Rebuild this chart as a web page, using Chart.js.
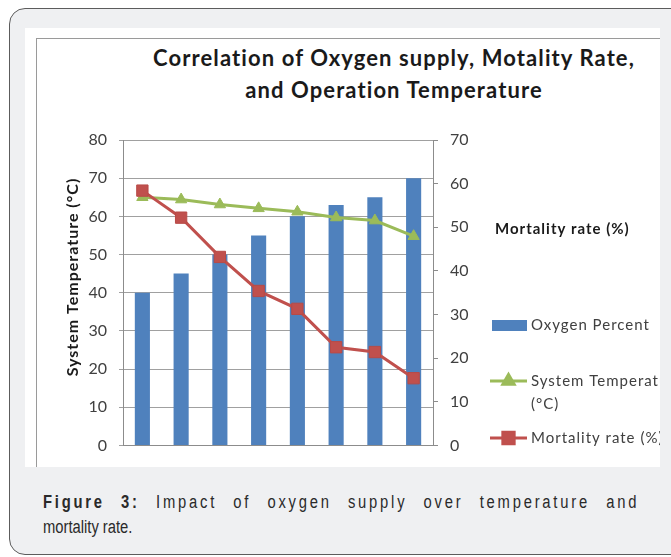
<!DOCTYPE html>
<html>
<head>
<meta charset="utf-8">
<script src="https://cdn.jsdelivr.net/npm/chart.js@4.4.1/dist/chart.umd.min.js"></script>
<style>
  body { margin: 0; width: 671px; height: 557px; overflow: hidden; position: relative; background: #fff; }
  .box { position: absolute; left: 9px; top: 8px; width: 700px; height: 545px; background: #eff0f2;
         border: 1.5px solid #5c5c5c; border-radius: 16px; }
  .plate { position: absolute; left: 25px; top: 28px; width: 635px; height: 439px; background: #fff; overflow: hidden; }
  .frame { position: absolute; left: 11px; top: 10px; width: 700px; height: 500px;
           border-left: 1px solid #9a9a9a; border-top: 1px solid #9a9a9a; }
  .title { position: absolute; left: 44px; top: 14px; width: 650px; text-align: center;
           font: bold 22px/32px Lato, sans-serif; letter-spacing: 1.1px; color: #1a1a1a; }
  canvas { position: absolute; left: 0; top: 0; }
  /* the caption font is a condensed Arial: squeeze Liberation Sans */
  .caption { position: absolute; left: 43px; top: 490px; width: 727px; color: #2a2a2a;
             transform: scaleX(0.82); transform-origin: 0 0;
             font: 18px/25px "Liberation Sans", Arial, sans-serif; }
  .caption .l1 { text-align: justify; text-align-last: justify; letter-spacing: 3.4px; white-space: nowrap; }
</style>
</head>
<body>
<div class="box"></div>
<div class="plate">
  <div class="frame"></div>
  <div class="title">Correlation of Oxygen supply, Motality Rate,<br>and Operation Temperature</div>
  <canvas id="chart" width="635" height="439"></canvas>
</div>
<div class="caption">
  <div class="l1"><b>Figure 3:</b> Impact of oxygen supply over temperature and</div>
  <div>mortality rate.</div>
</div>
<script>
// data
const categories = ['1', '2', '3', '4', '5', '6', '7', '8'];
const oxygenPercent = [40, 45, 50, 55, 60, 63, 65, 70];
const systemTemperature = [65, 64.4, 63.1, 62.1, 61.2, 59.7, 58.9, 54.8];
const mortalityRate = [58.4, 52.2, 43.2, 35.4, 31.3, 22.5, 21.4, 15.4];
const leftTicks = [0, 10, 20, 30, 40, 50, 60, 70, 80];
const rightTicks = [0, 10, 20, 30, 40, 50, 60, 70];
const legendLines = [['Oxygen Percent'], ['System Temperature', '(°C)'], ['Mortality rate (%)']];

const blue = '#4f81bd', green = '#9bbb59', red = '#c0504d';
const tickFont = { family: 'Lato', size: 16 };

const extras = {
    id: 'extras',
    afterDraw(chart) {
        const ctx = chart.ctx;
        ctx.save();
        ctx.letterSpacing = '1px';
        // left axis title
        ctx.fillStyle = '#1a1a1a';
        ctx.font = 'bold 16px Lato';
        ctx.textAlign = 'center';
        ctx.textBaseline = 'middle';
        ctx.save();
        ctx.translate(48, 249);
        ctx.rotate(-Math.PI / 2);
        ctx.fillText('System Temperature (°C)', 0, 0);
        ctx.restore();

        // secondary axis title, horizontal like the original
        ctx.font = 'bold 15px Lato';
        ctx.textAlign = 'left';
        ctx.fillText('Mortality rate (%)', 470, 201);

        // legend
        const rows = [297, 353, 410];
        ctx.font = '15px Lato';
        chart.data.datasets.forEach((ds, i) => {
            const y = rows[i];
            if (ds.type === 'bar') {
                ctx.fillStyle = ds.backgroundColor;
                ctx.fillRect(467, y - 5, 35, 11);
            } else {
                ctx.strokeStyle = ds.borderColor;
                ctx.lineWidth = 3;
                ctx.beginPath();
                ctx.moveTo(465, y);
                ctx.lineTo(502, y);
                ctx.stroke();
                Chart.helpers.drawPoint(ctx, {
                    pointStyle: ds.pointStyle,
                    radius: ds.pointRadius,
                    borderWidth: 1
                }, 483.5, y);
                ctx.fillStyle = ds.borderColor;
                ctx.fill();
            }
            ctx.fillStyle = '#404040';
            legendLines[i].forEach((t, k) => ctx.fillText(t, 506, y + k * 23));
        });
        ctx.restore();
    }
};

new Chart(document.getElementById('chart'), {
    data: {
        labels: categories,
        datasets: [
            {
                type: 'bar',
                label: 'Oxygen Percent',
                data: oxygenPercent,
                backgroundColor: blue,
                yAxisID: 'y',
                barPercentage: 0.39,
                categoryPercentage: 1,
                order: 3
            },
            {
                type: 'line',
                label: 'System Temperature (°C)',
                data: systemTemperature,
                borderColor: green,
                backgroundColor: green,
                borderWidth: 3,
                pointStyle: 'triangle',
                pointRadius: 6.5,
                pointBackgroundColor: green,
                pointBorderColor: green,
                pointBorderWidth: 1,
                yAxisID: 'y',
                order: 2
            },
            {
                type: 'line',
                label: 'Mortality rate (%)',
                data: mortalityRate,
                borderColor: red,
                backgroundColor: red,
                borderWidth: 3,
                pointStyle: 'rect',
                pointRadius: 8,
                pointBackgroundColor: red,
                pointBorderColor: '#b84a47',
                pointBorderWidth: 1,
                yAxisID: 'y1',
                order: 1
            }
        ]
    },
    options: {
        responsive: false,
        animation: false,
        layout: { padding: { top: 112, bottom: 15, left: 0, right: 0 } },
        plugins: {
            legend: { display: false },
            title: { display: false },
            tooltip: { enabled: false }
        },
        scales: {
            x: {
                grid: { display: false },
                border: { display: true, color: '#8c8c8c' },
                ticks: { display: false },
                afterFit: s => { s.height = 0; }
            },
            y: {
                position: 'left',
                min: 0,
                max: 80,
                afterBuildTicks: s => { s.ticks = leftTicks.map(v => ({ value: v })); },
                grid: { color: '#a0a0a0', tickLength: 4 },
                border: { color: '#8c8c8c' },
                ticks: { padding: 12, color: '#404040', font: tickFont },
                afterFit: s => { s.width = 98; }
            },
            y1: {
                position: 'right',
                min: 0,
                max: 70,
                afterBuildTicks: s => { s.ticks = rightTicks.map(v => ({ value: v })); },
                grid: { drawOnChartArea: false, color: '#8c8c8c', tickLength: 5 },
                border: { color: '#8c8c8c' },
                ticks: { padding: 12, color: '#404040', font: tickFont },
                afterFit: s => { s.width = 227; }
            }
        }
    },
    plugins: [extras]
});
</script>
</body>
</html>
